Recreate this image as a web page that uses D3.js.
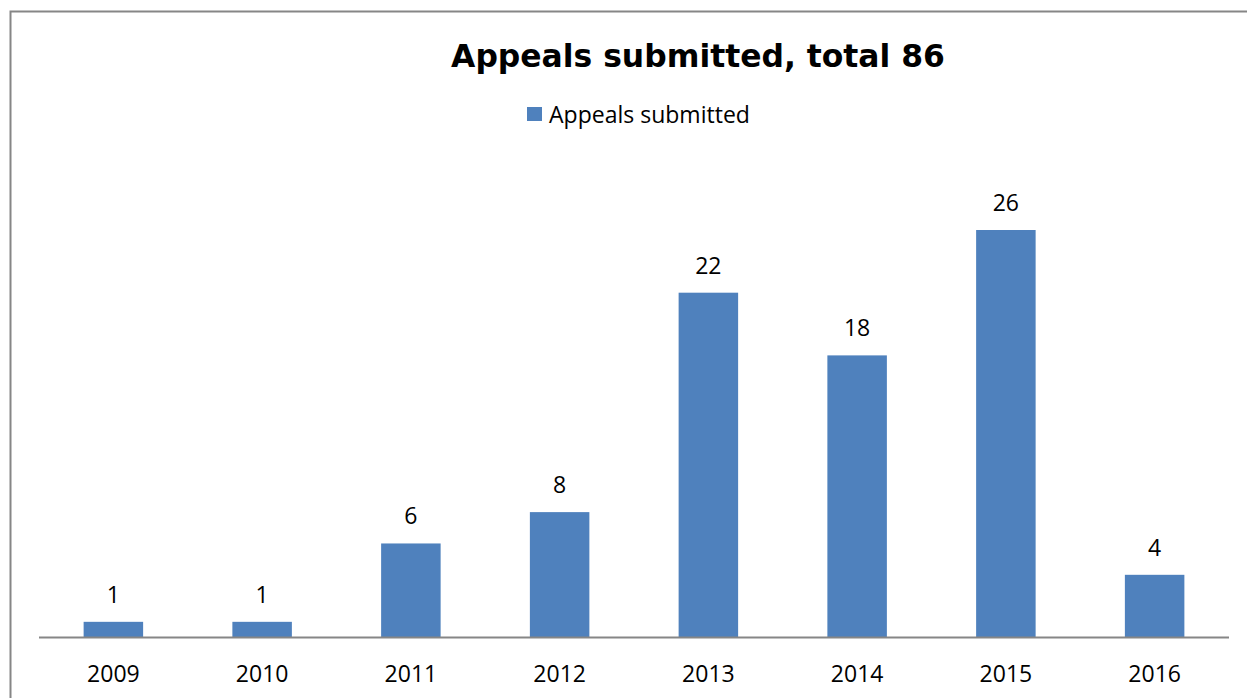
<!DOCTYPE html>
<html><head><meta charset="utf-8">
<script src="https://cdn.jsdelivr.net/npm/d3@7"></script>
<style>body{margin:0;background:#fff}svg{display:block}</style>
</head><body>
<svg id="c" width="1247" height="698"></svg>
<script>
const years = ["2009","2010","2011","2012","2013","2014","2015","2016"];
const appeals = [1, 1, 6, 8, 22, 18, 26, 4];
const seriesName = "Appeals submitted";
const title = "Appeals submitted, total 86";

const svg = d3.select("#c");
const W = 1247, H = 698;
const left = 39, right = 1229, base = 637.5, top26 = 230;
const color = "#4f81bd";
const font = "'Open Sans', sans-serif";

svg.append("rect").attr("x",10.5).attr("y",11.5).attr("width",W+20).attr("height",H+20)
  .attr("fill","#fff").attr("stroke","#868686").attr("stroke-width",2);

const x = d3.scaleBand().domain(years).range([left,right]).paddingInner(0.6).paddingOuter(0.3);
const y = d3.scaleLinear().domain([0,26]).range([base, top26]);

svg.append("g").selectAll("rect").data(appeals).join("rect")
  .attr("x",(d,i)=>x(years[i])).attr("width",x.bandwidth())
  .attr("y",d=>y(d)).attr("height",d=>base-y(d)).attr("fill",color);

const xAxis = d3.axisBottom(x).tickSize(0).tickPadding(0);
const gx = svg.append("g").attr("transform",`translate(0,${base})`).call(xAxis);
gx.select(".domain").attr("stroke","#868686").attr("stroke-width",2).attr("d",`M${left},0H${right}`);
gx.selectAll("text").attr("font-family",font).attr("font-size",23).attr("fill","#000")
  .attr("dy",null).attr("y",44.5);

svg.append("g").selectAll("text").data(appeals).join("text")
  .attr("x",(d,i)=>x(years[i])+x.bandwidth()/2).attr("y",d=>y(d)-19)
  .attr("text-anchor","middle").attr("font-family",font).attr("font-size",23).attr("fill","#000")
  .text(d=>d);

const t = svg.append("text").attr("x",698).attr("y",67).attr("text-anchor","middle")
  .attr("font-family","Verdana, 'DejaVu Sans', sans-serif").attr("font-weight","bold").attr("font-size",31)
  .text(title);
const tw = t.node().getComputedTextLength();
t.attr("font-size", 31*494/tw);

svg.append("rect").attr("x",527).attr("y",107).attr("width",15).attr("height",14).attr("fill",color);
const lt = svg.append("text").attr("x",549).attr("y",122.5).attr("font-family",font).attr("font-size",21).text(seriesName);
const lw = lt.node().getComputedTextLength();
lt.attr("font-size", 21*201/lw);
</script>
</body></html>
